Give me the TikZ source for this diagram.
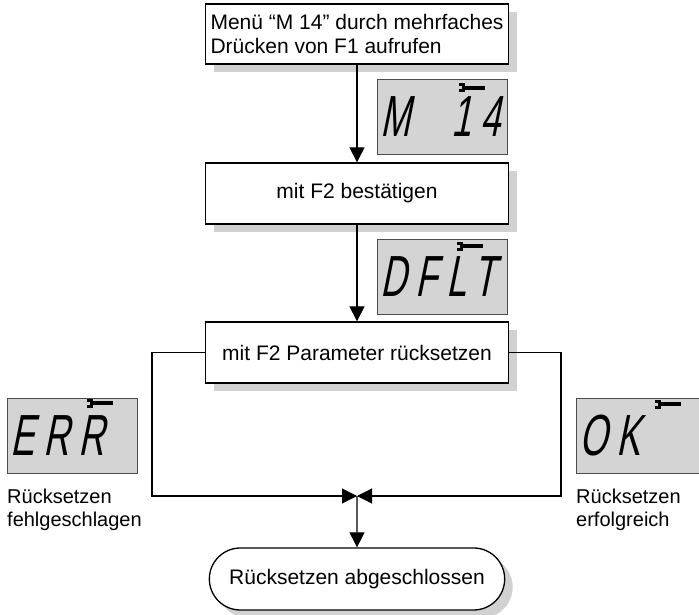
\documentclass[tikz,border=0pt]{standalone}
\usepackage{fontspec}
\setmainfont{Liberation Sans}
\newfontfamily\lcdfont[FakeSlant=0.2,FakeStretch=0.62,LetterSpace=16]{Liberation Sans}
\usetikzlibrary{arrows.meta,shadows,shapes.misc}
\definecolor{shadowgray}{gray}{0.82}
\definecolor{lcdgray}{gray}{0.83}
\newcommand\wrench[2]{%
  \fill[black] (#1+5,#2-1.6) rectangle (#1+26,#2+1.6);
  \fill[black] (#1,#2-4.5) rectangle (#1+6,#2+4.5);
  \fill[lcdgray] (#1-0.5,#2-1.5) rectangle (#1+3,#2+1.5);
}
\begin{document}
\begin{tikzpicture}[x=1pt,y=-1pt]
\tikzset{edge/.style = {-{Triangle[length=15pt,width=15pt]}, line width=1.1pt}}
\tikzset{stepbox/.style = {shape=rectangle, draw, line width=1.3pt, fill=white, minimum width=303pt, minimum height=61pt, font=\fontsize{21}{24}\selectfont, drop shadow={shadow xshift=8pt, shadow yshift=-8pt, fill=shadowgray, opacity=1}}}
\tikzset{endbox/.style = {stepbox, shape=rounded rectangle, minimum width=302pt, minimum height=62pt}}
\tikzset{lcd/.style = {shape=rectangle, draw=black!70, line width=0.8pt, fill=lcdgray, minimum width=130pt, minimum height=75pt, text width=124pt, align=left, inner xsep=3pt, font=\lcdfont\fontsize{58}{58}\selectfont}}
\tikzset{note/.style = {anchor=north west, inner sep=0pt, align=left, font=\fontsize{20}{23}\selectfont}}
\useasboundingbox (0,0) rectangle (699,615);
\node[stepbox, align=left, inner xsep=4pt, minimum height=60pt](menu) at (357,34) {Menü “M 14” durch mehrfaches\\Drücken von F1 aufrufen};
\node[stepbox](confirm) at (357,193.5) {mit F2 bestätigen};
\node[stepbox](reset) at (357,352.5) {mit F2 Parameter rücksetzen};
\node[endbox](done) at (357,579) {Rücksetzen abgeschlossen};
\node[lcd](lcdmenu) at (442.5,116.5) {M\hspace{41pt}14};
\node[lcd](lcddflt) at (442.5,276.5) {DFLT};
\node[lcd](lcderr) at (72,435.5) {ERR};
\node[lcd](lcdok) at (641,435.5) {OK};
\wrench{459}{88}
\wrench{457}{246}
\wrench{87}{403}
\wrench{655}{404}
\node[note](fail) at (7,489) {Rücksetzen\\fehlgeschlagen};
\node[note](success) at (576,489) {Rücksetzen\\erfolgreich};
\coordinate (join) at (357,496);
\coordinate (lturn) at (152,496);
\coordinate (rturn) at (561,496);
\draw[edge] (menu) to (confirm);
\draw[edge] (confirm) to (reset);
\draw[edge] (reset.west) -| (lturn) -- (join);
\draw[edge] (reset.east) -| (rturn) -- (join);
\draw[edge] (join) to (done);
\end{tikzpicture}
\end{document}
